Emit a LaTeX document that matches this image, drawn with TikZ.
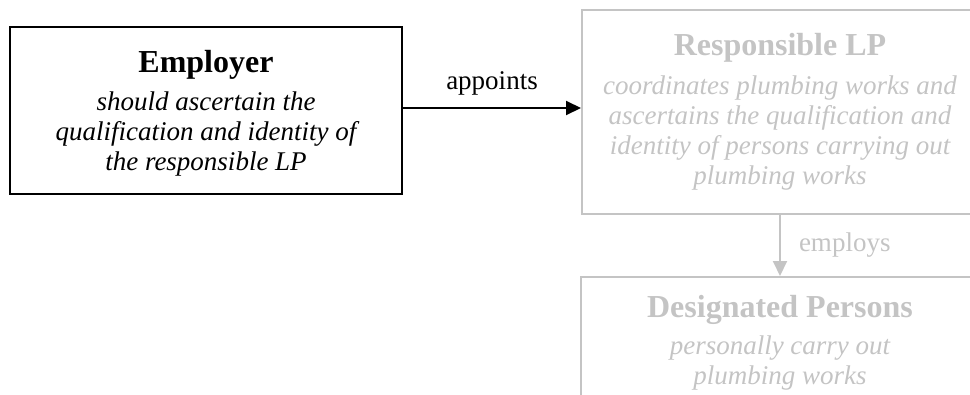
\documentclass[tikz,border=0pt]{standalone}
\usepackage{fontspec}
\setmainfont{Liberation Serif}
\usetikzlibrary{arrows.meta}
\definecolor{faded}{RGB}{196,196,196}
\newcommand{\boxtitle}[1]{{\fontsize{32}{36}\selectfont\bfseries #1}}
\begin{document}
\begin{tikzpicture}[x=1pt,y=-1pt,
  box/.style={draw, line width=2pt, rectangle, inner sep=0pt, align=center,
    font=\fontsize{27}{30}\selectfont},
  active/.style={box, draw=black, text=black},
  inactive/.style={box, draw=faded, text=faded},
  link/.style={line width=2pt, -{Triangle[length=15pt,width=14pt]}},
  linklabel/.style={font=\fontsize{27}{30}\selectfont, inner sep=2pt}]
\useasboundingbox (0,0) rectangle (970,394);
\clip (0,0) rectangle (970,394);

% the three parties
\node[active, minimum width=392pt, minimum height=167pt] (emp) at (206,110.5)
  {\boxtitle{\rule{0pt}{28pt}Employer}\\[8pt]
   \itshape should ascertain the\\
   \itshape qualification and identity of\\
   \itshape the responsible LP};
\node[inactive, minimum width=396pt, minimum height=204pt] (resp) at (780,112)
  {\boxtitle{Responsible LP}\\[9pt]
   \itshape coordinates plumbing works and\\
   \itshape ascertains the qualification and\\
   \itshape identity of persons carrying out\\
   \itshape plumbing works};
\node[inactive, minimum width=398pt, minimum height=132pt] (des) at (780,343)
  {\boxtitle{Designated Persons}\\[7pt]
   \itshape personally carry out\\
   \itshape plumbing works};

% relations between them
\draw[link, black] (emp.east |- 0,108) -- node[linklabel, above=10pt, text=black] (appoints) {appoints} (resp.west |- 0,108);
\draw[link, faded] (resp.south) -- node[linklabel, right=16pt, text=faded] (employs) {employs} (des.north);
\end{tikzpicture}
\end{document}
